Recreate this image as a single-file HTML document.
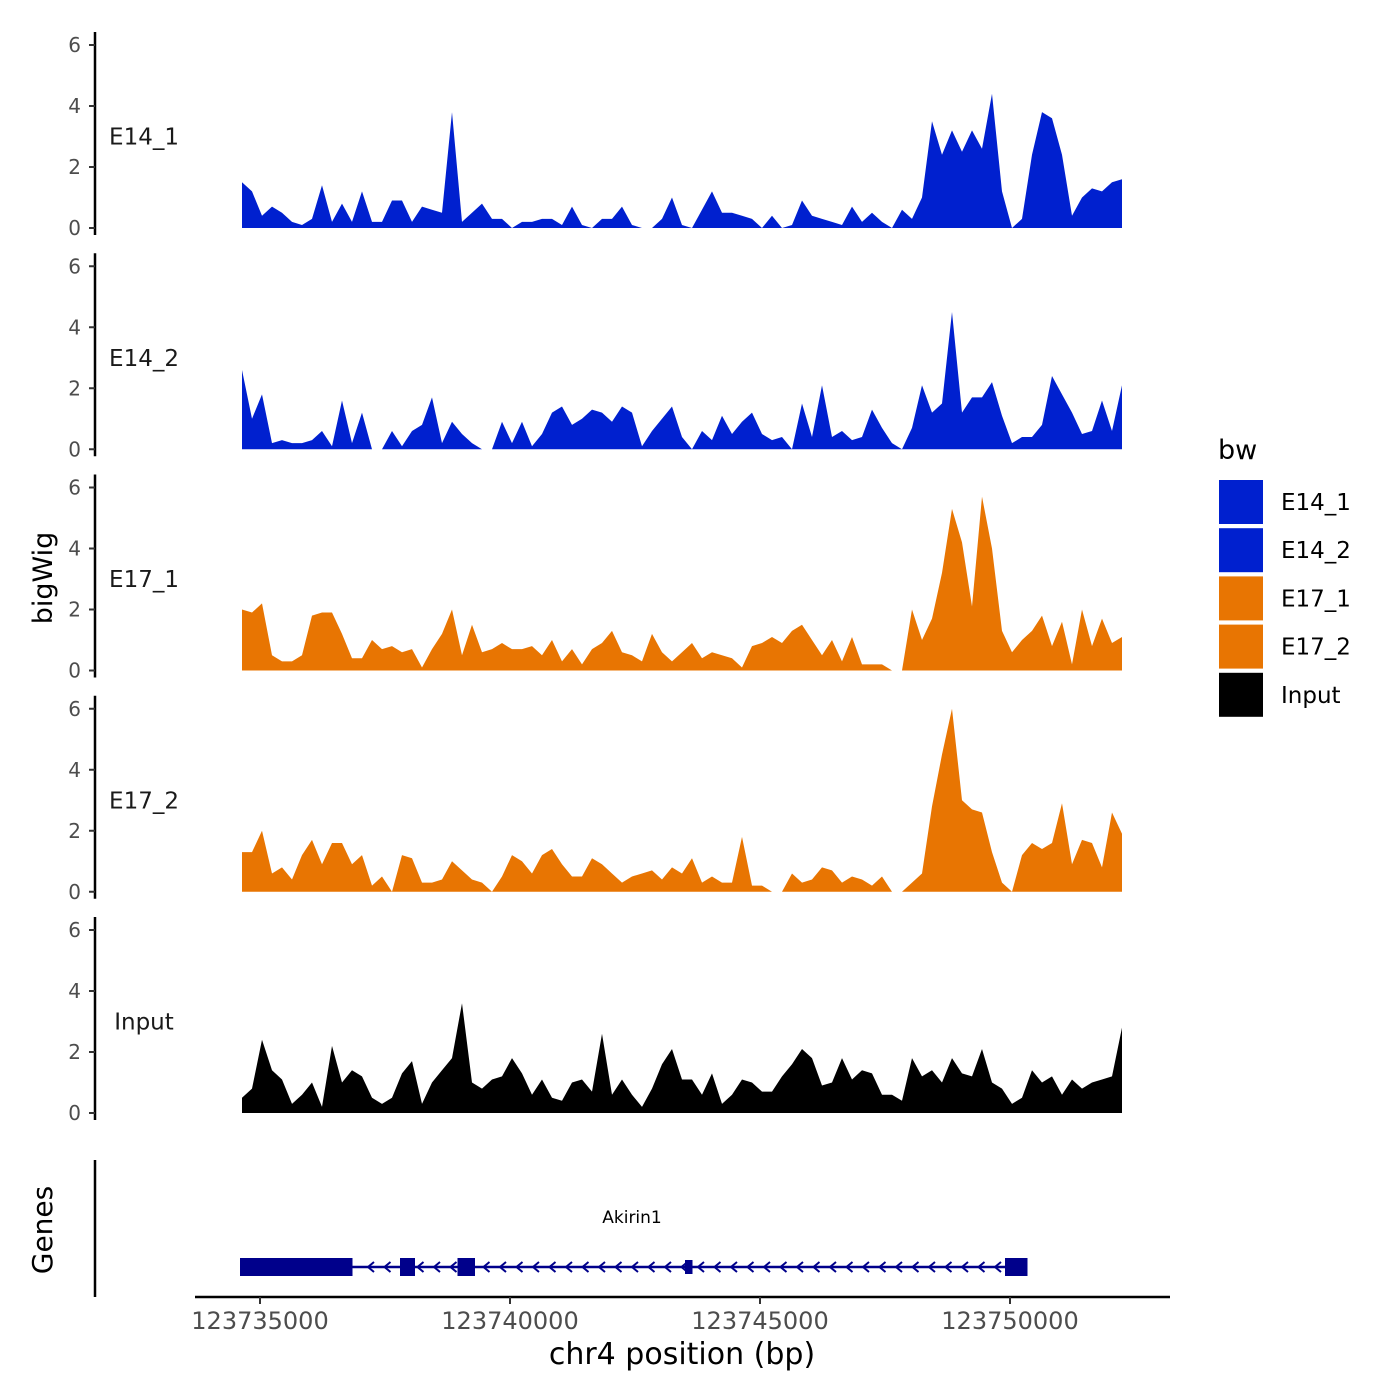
<!DOCTYPE html>
<html><head><meta charset="utf-8"><style>
body{margin:0;background:#fff}
svg{display:block;font-family:"DejaVu Sans","Liberation Sans",sans-serif}
</style></head><body>
<svg id="chart" width="1400" height="1400"></svg>
<script>
const startBp = 123734640;
const stepBp = 200;
const trackNames = ["E14_1","E14_2","E17_1","E17_2","Input"];
const trackColors = ["#0020cf","#0020cf","#e87502","#e87502","#000000"];
const yTicks = [0,2,4,6];
const xTicks = [123735000,123740000,123745000,123750000];
const E14_1 = [1.5,1.2,0.4,0.7,0.5,0.2,0.1,0.3,1.4,0.2,0.8,0.2,1.2,0.2,0.2,0.9,0.9,0.2,0.7,0.6,0.5,3.8,0.2,0.5,0.8,0.3,0.3,0.0,0.2,0.2,0.3,0.3,0.1,0.7,0.1,null,0.3,0.3,0.7,0.1,null,null,0.3,1.0,0.1,null,0.6,1.2,0.5,0.5,0.4,0.3,null,0.4,null,0.1,0.9,0.4,0.3,0.2,0.1,0.7,0.2,0.5,0.2,null,0.6,0.3,1.0,3.5,2.4,3.2,2.5,3.2,2.6,4.4,1.2,null,0.3,2.4,3.8,3.6,2.4,0.4,1.0,1.3,1.2,1.5,1.6];
const E14_2 = [2.6,1.0,1.8,0.2,0.3,0.2,0.2,0.3,0.6,0.1,1.6,0.2,1.2,null,null,0.6,0.1,0.6,0.8,1.7,0.2,0.9,0.5,0.2,null,null,0.9,0.2,0.9,0.1,0.5,1.2,1.4,0.8,1.0,1.3,1.2,0.9,1.4,1.2,0.1,0.6,1.0,1.4,0.4,null,0.6,0.3,1.1,0.5,0.9,1.2,0.5,0.3,0.4,null,1.5,0.4,2.1,0.4,0.6,0.3,0.4,1.3,0.7,0.2,null,0.7,2.1,1.2,1.5,4.5,1.2,1.7,1.7,2.2,1.1,0.2,0.4,0.4,0.8,2.4,1.8,1.2,0.5,0.6,1.6,0.6,2.1];
const E17_1 = [2.0,1.9,2.2,0.5,0.3,0.3,0.5,1.8,1.9,1.9,1.2,0.4,0.4,1.0,0.7,0.8,0.6,0.7,0.1,0.7,1.2,2.0,0.5,1.5,0.6,0.7,0.9,0.7,0.7,0.8,0.5,1.0,0.3,0.7,0.2,0.7,0.9,1.3,0.6,0.5,0.3,1.2,0.6,0.3,0.6,0.9,0.4,0.6,0.5,0.4,0.1,0.8,0.9,1.1,0.9,1.3,1.5,1.0,0.5,1.0,0.3,1.1,0.2,0.2,0.2,null,null,2.0,1.0,1.7,3.2,5.3,4.2,2.1,5.7,4.0,1.3,0.6,1.0,1.3,1.8,0.8,1.6,0.2,2.0,0.8,1.7,0.9,1.1];
const E17_2 = [1.3,1.3,2.0,0.6,0.8,0.4,1.2,1.7,0.9,1.6,1.6,0.9,1.2,0.2,0.5,null,1.2,1.1,0.3,0.3,0.4,1.0,0.7,0.4,0.3,null,0.5,1.2,1.0,0.6,1.2,1.4,0.9,0.5,0.5,1.1,0.9,0.6,0.3,0.5,0.6,0.7,0.4,0.8,0.6,1.1,0.3,0.5,0.3,0.3,1.8,0.2,0.2,null,null,0.6,0.3,0.4,0.8,0.7,0.3,0.5,0.4,0.2,0.5,null,null,0.3,0.6,2.8,4.5,6.0,3.0,2.7,2.6,1.3,0.3,null,1.2,1.6,1.4,1.6,2.9,0.9,1.7,1.6,0.8,2.6,1.9];
const Input = [0.5,0.8,2.4,1.4,1.1,0.3,0.6,1.0,0.2,2.2,1.0,1.4,1.2,0.5,0.3,0.5,1.3,1.7,0.3,1.0,1.4,1.8,3.6,1.0,0.8,1.1,1.2,1.8,1.3,0.6,1.1,0.5,0.4,1.0,1.1,0.7,2.6,0.6,1.1,0.6,0.2,0.8,1.6,2.1,1.1,1.1,0.6,1.3,0.3,0.6,1.1,1.0,0.7,0.7,1.2,1.6,2.1,1.8,0.9,1.0,1.8,1.1,1.4,1.3,0.6,0.6,0.4,1.8,1.2,1.4,1.0,1.8,1.3,1.2,2.1,1.0,0.8,0.3,0.5,1.4,1.0,1.2,0.6,1.1,0.8,1.0,1.1,1.2,2.8];
const series = [E14_1,E14_2,E17_1,E17_2,Input];
const exons = [[123734600,123736850],[123737800,123738100],[123738950,123739300],[123743500,123743650],[123749900,123750350]];
const geneStart = 123734600, geneEnd = 123750350;

const NS="http://www.w3.org/2000/svg";
const svg=document.getElementById('chart');
function mk(tag,attrs,parent){const e=document.createElementNS(NS,tag);for(const k in attrs)e.setAttribute(k,attrs[k]);(parent||svg).appendChild(e);return e;}
const xS = bp => 260 + (bp-123735000)*0.05;
const trackBase = i => 228 + i*221.25;
const yS = (i,v) => trackBase(i) - v*30.5;

series.forEach((vals,i)=>{
  const g=mk('g',{});
  
  
  const ax=mk('line',{x1:95,x2:95,y1:yS(i,6)-13,y2:trackBase(i)+7,stroke:'#000','stroke-width':2.5},g);
  
  
  yTicks.forEach(t=>{
    mk('line',{x1:89,x2:95,y1:yS(i,t),y2:yS(i,t),stroke:'#333','stroke-width':2},g);
    const tl=mk('text',{x:81,y:yS(i,t)+7,'text-anchor':'end','font-size':20,fill:'#4d4d4d'},g);
    tl.textContent=t;
    
    
  });
  const lab=mk('text',{x:144,y:yS(i,3)+8,'text-anchor':'middle','font-size':23,fill:'#1a1a1a'},g);
  lab.textContent=trackNames[i];
  
  
  let d='M'+xS(startBp)+','+trackBase(i);
  vals.forEach((v,k)=>{
    d+='L'+xS(startBp+k*stepBp)+','+yS(i,v===null?0:v);
  });
  d+='L'+xS(startBp+(vals.length-1)*stepBp)+','+trackBase(i)+'Z';
  const p=mk('path',{d:d,fill:trackColors[i]},g);
  
  
});

const yt=mk('text',{x:52,y:578,'text-anchor':'middle','font-size':27,transform:'rotate(-90 52 578)',fill:'#000'});
yt.textContent='bigWig';



const gg=mk('g',{});


mk('line',{x1:95,x2:95,y1:1160,y2:1297,stroke:'#000','stroke-width':2.5},gg);
const gt=mk('text',{x:52,y:1230,'text-anchor':'middle','font-size':28,transform:'rotate(-90 52 1230)'},gg);
gt.textContent='Genes';


mk('line',{x1:xS(geneStart),x2:xS(geneEnd),y1:1267,y2:1267,stroke:'#00008b','stroke-width':2.5},gg);
for(let x=xS(geneStart)+130;x<xS(geneEnd)-15;x+=16.5){
  mk('path',{d:`M${x+4},${1262}L${x-2},${1267}L${x+4},${1272}`,stroke:'#00008b','stroke-width':2,fill:'none'},gg);
}
exons.forEach(e=>{
  const h = (e[1]-e[0])<200?14:18;
  const r=mk('rect',{x:xS(e[0]),y:1267-h/2,width:xS(e[1])-xS(e[0]),height:h,fill:'#00008b'},gg);
  
  
});
const gn=mk('text',{x:632,y:1223,'text-anchor':'middle','font-size':17,fill:'#000'},gg);
gn.textContent='Akirin1';



const xa=mk('line',{x1:195,x2:1170,y1:1297,y2:1297,stroke:'#000','stroke-width':2.5});


xTicks.forEach(t=>{
  mk('line',{x1:xS(t),x2:xS(t),y1:1297,y2:1304,stroke:'#333','stroke-width':2});
  const l=mk('text',{x:xS(t),y:1329,'text-anchor':'middle','font-size':24,fill:'#4d4d4d'});
  l.textContent=t;
  
  
});
const xt=mk('text',{x:682,y:1364,'text-anchor':'middle','font-size':30});
xt.textContent='chr4 position (bp)';



const lg=mk('g',{});


const lt=mk('text',{x:1218,y:459,'font-size':27},lg);
lt.textContent='bw';
trackNames.forEach((n,i)=>{
  const y=480+i*48.2;
  const r=mk('rect',{x:1219,y:y,width:44,height:44,fill:trackColors[i]},lg);
  
  
  const t=mk('text',{x:1281,y:y+30,'font-size':23},lg);
  t.textContent=n;
  
  
});
</script>
</body></html>
